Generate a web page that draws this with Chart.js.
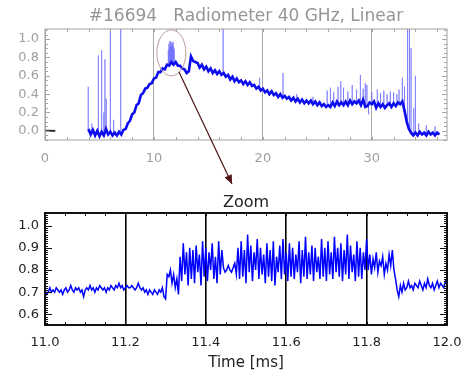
<!DOCTYPE html>
<html><head><meta charset="utf-8">
<script src="https://cdn.jsdelivr.net/npm/chart.js@4/dist/chart.umd.min.js"></script>
<style>
html,body{margin:0;padding:0;background:#fff;width:464px;height:373px;overflow:hidden}
canvas{position:absolute;left:0}
#top{top:0}
#bot{top:185px}
</style></head><body>
<canvas id="top" width="464" height="185"></canvas>
<canvas id="bot" width="464" height="188"></canvas>
<script>
// ---------- DATA ----------
const topTitle = '#16694   Radiometer 40 GHz, Linear';
const zoomTitle = 'Zoom';
const xAxisTitle = 'Time [ms]';
const topXTicks = [0, 10, 20, 30];
const topYTicks = [0.0, 0.2, 0.4, 0.6, 0.8, 1.0];
const botXTicks = [11.0, 11.2, 11.4, 11.6, 11.8, 12.0];
const botYTicks = [0.6, 0.7, 0.8, 0.9, 1.0];

// overview signal: sampled from t = 4.0 ms every 0.2 ms
const topStart = 4.0, topStep = 0.2;
const topValues = [
  0.02,-0.04,0.01,-0.05,0.00,-0.06,-0.01,-0.05,0.02,-0.04,
  -0.01,-0.05,-0.02,-0.05,-0.01,-0.04,0.01,0.02,0.08,0.11,
  0.18,0.20,0.28,0.30,0.39,0.41,0.46,0.47,0.51,0.52,
  0.57,0.58,0.64,0.64,0.68,0.67,0.72,0.71,0.75,0.72,
  0.75,0.71,0.71,0.68,0.67,0.63,0.65,0.81,0.76,0.75,
  0.74,0.69,0.72,0.67,0.70,0.65,0.68,0.63,0.66,0.62,
  0.65,0.61,0.63,0.59,0.61,0.56,0.59,0.54,0.57,0.53,
  0.55,0.51,0.54,0.50,0.53,0.49,0.50,0.46,0.48,0.44,
  0.46,0.42,0.44,0.40,0.43,0.39,0.41,0.37,0.40,0.36,
  0.38,0.35,0.37,0.33,0.36,0.32,0.35,0.31,0.34,0.30,
  0.33,0.30,0.33,0.29,0.32,0.28,0.31,0.27,0.29,0.26,
  0.28,0.26,0.31,0.27,0.32,0.28,0.31,0.28,0.32,0.28,
  0.33,0.29,0.32,0.30,0.33,0.28,0.34,0.26,0.27,0.31,
  0.29,0.32,0.25,0.30,0.26,0.29,0.25,0.28,0.30,0.26,
  0.30,0.27,0.31,0.29,0.32,0.22,0.10,0.02,-0.02,-0.05,
  -0.02,-0.05,-0.01,-0.04,-0.02,-0.05,-0.01,-0.04,-0.02,-0.05,
  -0.02,-0.04
];
// light spikes in the overview
const spikeT    = [3.97,4.3,4.9,5.2,5.4,5.5,5.62,6.0,6.3,6.95,
  11.32,11.38,11.42,11.47,11.52,11.56,11.61,11.66,11.71,11.76,11.81,11.86,
  16.35,17.3,19.7,21.85,23.1,24.6,25.9,26.2,26.5,26.9,27.15,27.4,27.8,28.2,28.6,28.95,29.2,29.4,29.55,29.7,
  30.0,30.5,30.8,31.1,31.4,31.7,32.0,32.3,32.5,32.8,33.0,33.28,33.45,33.6,33.85,34.0,34.3,35.0,35.8];
const spikeBase = [-0.02,-0.03,-0.02,-0.02,-0.03,-0.03,-0.03,-0.02,-0.03,-0.02,
  0.72,0.72,0.72,0.73,0.73,0.73,0.73,0.73,0.74,0.74,0.74,0.74,
  0.62,0.55,0.45,0.38,0.34,0.31,0.28,0.28,0.29,0.29,0.29,0.30,0.29,0.30,0.30,0.30,0.31,0.28,0.26,0.27,
  0.29,0.28,0.27,0.27,0.27,0.28,0.29,0.29,0.29,0.29,0.20,0.08,0.02,-0.02,-0.03,-0.03,-0.03,-0.04,-0.04];
const spikePeak = [0.48,0.08,0.82,0.88,0.20,0.78,0.35,1.15,0.12,1.15,
  0.88,0.95,0.91,0.98,0.93,0.97,0.92,0.96,0.94,0.97,0.91,0.89,
  1.15,0.60,0.58,0.63,0.40,0.37,0.44,0.47,0.42,0.48,0.54,0.47,0.43,0.50,0.45,0.61,0.46,0.52,0.50,0.18,
  0.42,0.45,0.41,0.44,0.40,0.43,0.42,0.40,0.45,0.58,0.48,1.15,1.15,0.90,0.25,0.60,0.08,0.06,0.05];
// short dark segment at zero level near t = 0
const zeroSegT = [0, 0.95];
const zeroSegV = [0, 0];

// zoomed signal: sampled from t = 11.000 ms every 0.004 ms
const zoomStart = 11.0, zoomStep = 0.004;
const zoomValues = [
  0.71,0.69,0.70,0.72,0.70,0.71,0.70,0.72,0.71,0.70,
  0.71,0.69,0.71,0.72,0.70,0.71,0.73,0.71,0.70,0.72,
  0.71,0.72,0.70,0.71,0.68,0.71,0.72,0.71,0.73,0.71,
  0.72,0.70,0.72,0.71,0.73,0.72,0.71,0.72,0.70,0.72,
  0.71,0.73,0.72,0.71,0.73,0.72,0.74,0.72,0.73,0.71,
  0.72,0.73,0.72,0.72,0.73,0.72,0.71,0.72,0.74,0.72,
  0.71,0.72,0.70,0.71,0.69,0.71,0.70,0.69,0.71,0.70,
  0.69,0.71,0.70,0.72,0.68,
  0.67,
  0.78,0.77,0.80,0.74,0.78,0.72,0.76,0.69,0.86,0.75,0.92,0.78,0.88,0.73,0.90,
  0.76,0.89,0.74,0.91,0.79,0.87,0.73,0.93,0.77,0.90,0.75,0.88,0.80,0.92,0.76,0.86,0.74,0.93,0.78,0.89,
  0.81,0.79,0.80,0.82,0.80,0.79,0.81,0.83,
  0.78,0.90,0.76,0.93,0.77,0.89,0.74,0.96,0.79,0.91,
  0.75,0.88,0.80,0.94,0.76,0.90,0.78,0.87,0.74,0.92,
  0.77,0.89,0.75,0.93,0.73,0.86,0.79,0.91,0.76,0.94,
  0.78,0.88,0.75,0.92,0.77,0.90,0.76,0.87,0.79,0.93,
  0.74,0.89,0.77,0.95,0.76,0.88,0.78,0.91,0.75,0.90,
  0.79,0.86,
  0.76,0.94,0.77,0.90,0.75,0.93,0.78,0.88,0.76,0.95,
  0.79,0.90,0.77,0.92,0.75,0.89,0.78,0.96,0.76,0.91,
  0.79,0.87,0.75,0.93,0.77,0.90,0.76,0.88,0.80,0.94,
  0.80,0.87,0.78,0.85,0.81,0.88,0.79,0.84,0.82,0.86,0.78,0.83,0.80,0.87,0.82,0.89,0.80,
  0.76,0.71,0.68,0.73,0.70,
  0.74,0.71,0.72,0.75,0.72,0.73,0.71,0.74,0.73,0.72,
  0.75,0.73,0.71,0.74,0.72,0.76,0.73,0.72,0.74,0.71,
  0.73,0.75,0.72,0.74,0.73,0.72,0.75,0.74
];

// ---------- BUILD ----------
Chart.defaults.font.family = "'DejaVu Sans', sans-serif";
const topData = topValues.map((v, i) => ({x: topStart + i * topStep, y: v}));
const spikeData = [];
spikeT.forEach((t, i) => {
  spikeData.push({x: t, y: spikeBase[i]}, {x: t, y: spikePeak[i]}, {x: t, y: spikeBase[i]}, {x: t, y: null});
});
const zeroData = zeroSegT.map((t, i) => ({x: t, y: zeroSegV[i]}));
const zoomData = zoomValues.map((v, i) => ({x: zoomStart + i * zoomStep, y: v}));

function minorTicks(chart, o) {
  const {ctx, chartArea: a, scales: {x, y}} = chart;
  ctx.save();
  ctx.strokeStyle = o.color; ctx.lineWidth = 1;
  ctx.beginPath();
  for (let j = o.xj0; j <= o.xj1; j++) {
    const px = Math.round(x.getPixelForValue(j * o.xStep)) + 0.5;
    ctx.moveTo(px, a.top); ctx.lineTo(px, a.top + o.xLen);
    ctx.moveTo(px, a.bottom); ctx.lineTo(px, a.bottom - o.xLen);
  }
  for (let j = o.yj0; j <= o.yj1; j++) {
    const py = Math.round(y.getPixelForValue(j * o.yStep)) + 0.5;
    const len = (j % o.yMajorEvery === 0) ? o.yMajorLen : o.yLen;
    ctx.moveTo(a.left, py); ctx.lineTo(a.left + len, py);
    ctx.moveTo(a.right, py); ctx.lineTo(a.right - len, py);
  }
  ctx.stroke();
  ctx.strokeStyle = o.borderColor; ctx.lineWidth = o.borderWidth;
  ctx.strokeRect(a.left, a.top, a.right - a.left, a.bottom - a.top);
  ctx.restore();
}
function label(ctx, text, x, y, font, color) {
  ctx.save();
  ctx.font = font; ctx.fillStyle = color;
  ctx.textAlign = 'center'; ctx.textBaseline = 'alphabetic';
  ctx.fillText(text, x, y);
  ctx.restore();
}

const topDecor = {
  id: 'topDecor',
  afterDatasetsDraw(chart) {
    minorTicks(chart, {color: '#a8a8a8', borderColor: '#a0a0a0', borderWidth: 1,
      xStep: 2, xj0: 0, xj1: 18, xLen: 3,
      yStep: 0.05, yj0: -2, yj1: 22, yLen: 3, yMajorEvery: 4, yMajorLen: 5});
    const {ctx, chartArea: a, scales: {x, y}} = chart;
    label(ctx, topTitle, (a.left + a.right) / 2, 20.5, "17px 'DejaVu Sans', sans-serif", '#959595');
    const cx = x.getPixelForValue(11.6), cy = y.getPixelForValue(0.85);
    ctx.save();
    ctx.strokeStyle = '#b89c9c'; ctx.lineWidth = 1;
    ctx.beginPath(); ctx.ellipse(cx, cy, 14.5, 23, 0, 0, Math.PI * 2); ctx.stroke();
    // arrow to the zoom panel
    const x0 = cx + 7.5, y0 = cy + 19, x1 = 232, y1 = 184;
    ctx.strokeStyle = '#4e1414'; ctx.fillStyle = '#4e1414'; ctx.lineWidth = 1.2;
    ctx.beginPath(); ctx.moveTo(x0, y0); ctx.lineTo(x1, y1); ctx.stroke();
    const ang = Math.atan2(y1 - y0, x1 - x0), L = 9, W = 4;
    const bx = x1 - L * Math.cos(ang), by = y1 - L * Math.sin(ang);
    ctx.beginPath(); ctx.moveTo(x1, y1);
    ctx.lineTo(bx + W * Math.sin(ang), by - W * Math.cos(ang));
    ctx.lineTo(bx - W * Math.sin(ang), by + W * Math.cos(ang));
    ctx.closePath(); ctx.fill();
    ctx.restore();
  }
};
const botDecor = {
  id: 'botDecor',
  afterDatasetsDraw(chart) {
    minorTicks(chart, {color: '#111', borderColor: '#111', borderWidth: 2,
      xStep: 0.05, xj0: 220, xj1: 240, xLen: 3,
      yStep: 0.01, yj0: 55, yj1: 105, yLen: 3, yMajorEvery: 10, yMajorLen: 7});
    const {ctx, chartArea: a} = chart;
    const cx = (a.left + a.right) / 2;
    label(ctx, zoomTitle, cx, 21.5, "16px 'DejaVu Sans', sans-serif", '#222');
    label(ctx, xAxisTitle, cx, 181.5, "15px 'DejaVu Sans', sans-serif", '#222');
  }
};

new Chart(document.getElementById('top'), {
  type: 'line',
  data: {datasets: [
    {data: topData, borderColor: 'rgb(12,12,238)', borderWidth: 2.6, pointRadius: 0, tension: 0},
    {data: spikeData, borderColor: 'rgba(115,115,255,0.7)', borderWidth: 1, pointRadius: 0, tension: 0, spanGaps: false},
    {data: zeroData, borderColor: '#333', borderWidth: 2, pointRadius: 0}
  ]},
  options: {
    responsive: false, animation: false, devicePixelRatio: 1,
    layout: {padding: {left: 0, right: 17, top: 29, bottom: 0}},
    plugins: {legend: {display: false}, tooltip: {enabled: false}, title: {display: false}},
    scales: {
      x: {type: 'linear', min: 0, max: 36.9,
        afterBuildTicks: s => { s.ticks = topXTicks.map(v => ({value: v})); },
        afterFit: s => { s.height = 45; s.paddingLeft = 0; s.paddingRight = 0; },
        grid: {color: '#a8a8a8', lineWidth: 1, drawTicks: false},
        border: {display: false},
        ticks: {color: '#a0a0a0', font: {size: 13}, padding: 11, maxRotation: 0, callback: v => String(v)}},
      y: {type: 'linear', min: -0.1, max: 1.11,
        afterBuildTicks: s => { s.ticks = topYTicks.map(v => ({value: v})); },
        afterFit: s => { s.width = 45; },
        grid: {display: false, drawTicks: false},
        border: {display: false},
        ticks: {color: '#a0a0a0', font: {size: 13}, padding: 6, callback: v => Number(v).toFixed(1)}}
    }
  },
  plugins: [topDecor]
});

new Chart(document.getElementById('bot'), {
  type: 'line',
  data: {datasets: [
    {data: zoomData, borderColor: '#0000ff', borderWidth: 1.5, pointRadius: 0, tension: 0}
  ]},
  options: {
    responsive: false, animation: false, devicePixelRatio: 1,
    layout: {padding: {left: 0, right: 17, top: 28, bottom: 0}},
    plugins: {legend: {display: false}, tooltip: {enabled: false}, title: {display: false}},
    scales: {
      x: {type: 'linear', min: 11.0, max: 12.0,
        afterBuildTicks: s => { s.ticks = botXTicks.map(v => ({value: v})); },
        afterFit: s => { s.height = 48; s.paddingLeft = 0; s.paddingRight = 0; },
        grid: {color: '#000', lineWidth: 1.6, drawTicks: false},
        border: {display: false},
        ticks: {color: '#222', font: {size: 13}, padding: 10, maxRotation: 0, callback: v => Number(v).toFixed(1)}},
      y: {type: 'linear', min: 0.552, max: 1.057,
        afterBuildTicks: s => { s.ticks = botYTicks.map(v => ({value: v})); },
        afterFit: s => { s.width = 45; },
        grid: {display: false, drawTicks: false},
        border: {display: false},
        ticks: {color: '#222', font: {size: 13}, padding: 6, callback: v => Number(v).toFixed(1)}}
    }
  },
  plugins: [botDecor]
});
</script>
</body></html>
